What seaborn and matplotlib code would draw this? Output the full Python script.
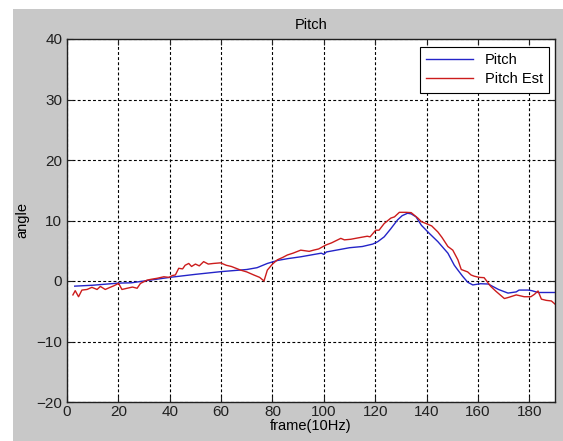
import matplotlib
matplotlib.use("Agg")
import matplotlib.pyplot as plt
import seaborn as sns
import pandas as pd
from matplotlib.patches import Rectangle

# ---- data ----
pitch_x = [3, 10, 20, 25, 30, 40, 50, 60, 70, 74, 78, 82, 86, 91, 95, 99, 100, 101,
           110, 115, 119, 121, 123.5, 126, 128.7, 130.5, 132.6, 134, 135.9, 138, 141,
           144.4, 148.3, 150.8, 152.2, 154, 156, 158, 161, 164, 168, 171.7, 174.9,
           176, 179.5, 181, 183.4, 190]
pitch_y = [-0.85, -0.7, -0.35, -0.3, 0.0, 0.6, 1.1, 1.55, 1.9, 2.2, 2.9, 3.4, 3.7, 4.0,
           4.3, 4.6, 4.4, 4.8, 5.5, 5.7, 6.1, 6.5, 7.3, 8.6, 10.1, 10.8, 11.2, 11.1,
           10.6, 9.2, 7.9, 6.5, 4.6, 2.6, 1.8, 0.8, -0.2, -0.65, -0.45, -0.5, -1.4,
           -2.0, -1.8, -1.5, -1.5, -1.6, -1.9, -1.9]

est_x = [2.3, 3.2, 4.5, 5.8, 7.8, 9.7, 11.7, 13, 14.9, 16.5, 18.2, 20.1, 21.4, 23.4,
         25.5, 27.3, 28.6, 31.2, 33, 35.1, 37.7, 39.7, 41, 42.2, 43.5, 45, 46, 47.4,
         48.5, 50, 51.5, 53.2, 55, 57, 59.8, 62, 64, 67.6, 70, 72.7, 75, 76.7, 78, 80,
         81.9, 84, 85.8, 88, 91, 94.3, 96, 98, 100.8, 103, 106.6, 108, 110.5, 113,
         116.9, 118, 120.2, 121.5, 123.5, 126.1, 127.5, 129.4, 132, 134, 136.6, 138,
         139.8, 142, 144.4, 146, 148.3, 150.2, 152.2, 153.5, 156, 157.3, 158.5, 160.5,
         162.4, 165, 167, 170.3, 172, 174.9, 176, 178, 180.6, 182, 183.4, 184.7, 186.6,
         188.6, 190.5]
est_y = [-2.3, -1.6, -2.6, -1.5, -1.4, -1.05, -1.4, -0.9, -1.4, -1.1, -0.8, -0.4, -1.4,
         -1.2, -1.0, -1.2, -0.4, 0.15, 0.3, 0.45, 0.7, 0.6, 0.9, 1.0, 2.1, 2.0, 2.6,
         2.9, 2.4, 2.8, 2.5, 3.2, 2.8, 2.9, 3.0, 2.6, 2.4, 1.8, 1.5, 1.0, 0.6, 0.0,
         1.8, 2.8, 3.5, 3.9, 4.3, 4.6, 5.1, 4.9, 5.1, 5.3, 5.95, 6.3, 7.05, 6.8, 6.9,
         7.1, 7.4, 7.3, 8.4, 8.4, 9.5, 10.4, 10.6, 11.35, 11.35, 11.3, 10.4, 9.8, 9.5,
         9.1, 8.1, 7.2, 5.7, 5.1, 3.5, 1.9, 1.5, 1.0, 0.8, 0.6, 0.55, -0.9, -1.7, -2.9,
         -2.7, -2.3, -2.4, -2.6, -2.6, -2.2, -1.65, -3.0, -3.2, -3.3, -4.0]

series_names = ["Pitch", "Pitch Est"]
x_ticks = [0, 20, 40, 60, 80, 100, 120, 140, 160, 180]
y_ticks = [-20, -10, 0, 10, 20, 30, 40]

df = pd.concat([
    pd.DataFrame({"frame": pitch_x, "angle": pitch_y, "series": series_names[0]}),
    pd.DataFrame({"frame": est_x, "angle": est_y, "series": series_names[1]}),
], ignore_index=True)

plt.rcParams["font.family"] = ["Liberation Sans", "DejaVu Sans"]
plt.rcParams["font.size"] = 10.5

W, H = 563, 441
fig = plt.figure(figsize=(W / 100, H / 100), dpi=100, facecolor="white")
bg = Rectangle((13 / W, 0), 1 - 13 / W, 1 - 9 / H, transform=fig.transFigure,
               facecolor="#c8c8c8", edgecolor="none", zorder=-10)
fig.add_artist(bg)
ax = fig.add_axes([67 / W, (H - 402) / H, (555 - 67) / W, (402 - 39) / H])
ax.set_zorder(1)
ax.set_facecolor("white")

sns.lineplot(data=df, x="frame", y="angle", hue="series", sort=False,
             palette={"Pitch": "#2424c8", "Pitch Est": "#cc1c1c"},
             linewidth=1.0, ax=ax, estimator=None)

ax.set_xlim(0, 190)
ax.set_ylim(-20, 40)
ax.set_xticks(x_ticks)
ax.set_yticks(y_ticks)
ax.grid(True, color="black", linestyle=(0, (2.6, 2.0)), linewidth=0.8)
ax.set_axisbelow(True)
for s in ax.spines.values():
    s.set_color("#202020")
    s.set_linewidth(1.0)
ax.tick_params(direction="in", top=True, right=True, length=4, width=0.8,
               labelsize=11, pad=2.5, colors="#202020")
ax.tick_params(axis="y", pad=3.5)
ax.set_title("Pitch", fontsize=10.5, pad=7)
ax.set_xlabel("frame(10Hz)", fontsize=10.5, labelpad=0)
ax.set_ylabel("angle", fontsize=10.5, labelpad=5)

leg = ax.legend(loc="upper right", frameon=True, fancybox=False, framealpha=1,
                edgecolor="black", fontsize=10.5, handlelength=3.2,
                bbox_to_anchor=(0.9885, 0.979), borderaxespad=0,
                labelspacing=0.35, borderpad=0.45)
leg.get_frame().set_linewidth(0.8)

fig.savefig("out.png", dpi=100, facecolor=fig.get_facecolor())
